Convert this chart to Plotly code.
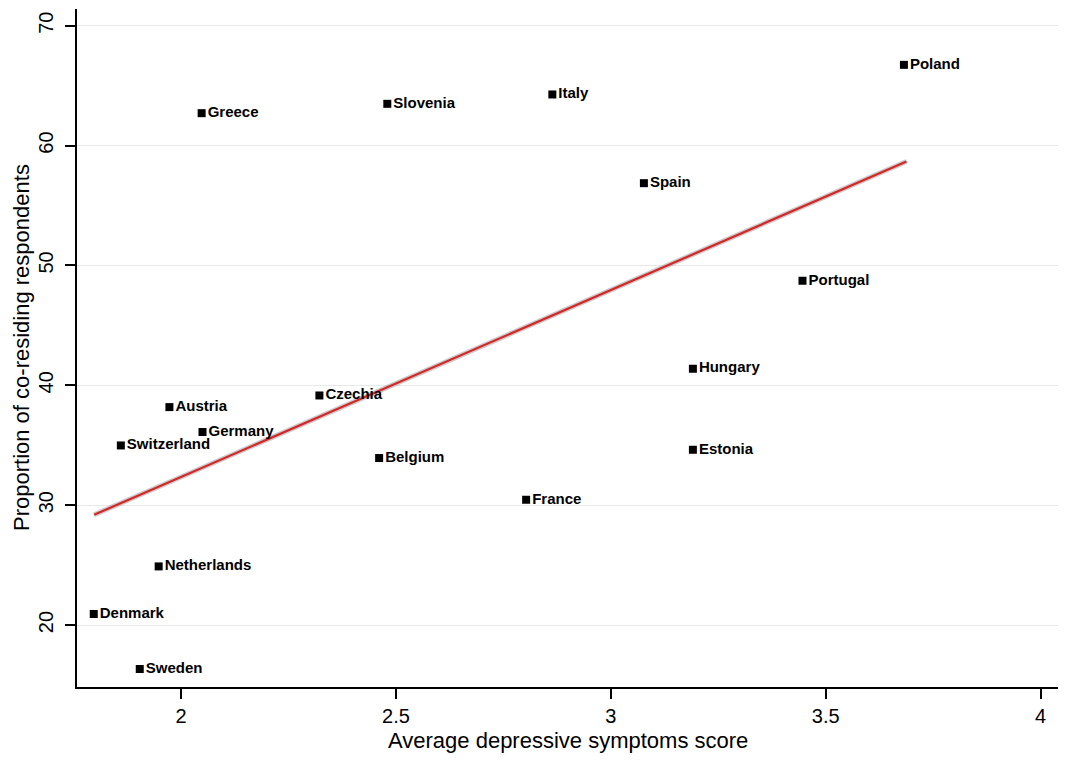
import plotly.graph_objects as go

countries = ["Poland", "Greece", "Slovenia", "Italy", "Spain", "Portugal", "Hungary",
             "Estonia", "Czechia", "Austria", "Germany", "Switzerland", "Belgium",
             "France", "Netherlands", "Denmark", "Sweden"]
depression = [3.682, 2.048, 2.480, 2.864, 3.077, 3.446, 3.191,
              3.191, 2.322, 1.973, 2.050, 1.860, 2.461,
              2.803, 1.948, 1.797, 1.904]
coresiding = [66.73, 62.70, 63.48, 64.26, 56.86, 48.72, 41.38,
              34.62, 39.15, 38.18, 36.10, 34.98, 33.93,
              30.45, 24.89, 20.92, 16.33]

# fitted line end points
fit_x = [1.798, 3.688]
fit_y = [29.20, 58.67]

x_ticks = [2, 2.5, 3, 3.5, 4]
x_tick_labels = ["2", "2.5", "3", "3.5", "4"]
y_ticks = [20, 30, 40, 50, 60, 70]

fig = go.Figure()
fig.add_trace(go.Scatter(x=fit_x, y=fit_y, mode="lines",
                         line=dict(color="rgba(150,150,150,0.5)", width=5),
                         hoverinfo="skip", showlegend=False))
fig.add_trace(go.Scatter(x=fit_x, y=fit_y, mode="lines",
                         line=dict(color="#d62728", width=2.2),
                         showlegend=False))
fig.add_trace(go.Scatter(x=depression, y=coresiding, mode="markers+text",
                         text=countries, textposition="middle right",
                         textfont=dict(family="Liberation Sans", size=15, color="black",
                                       weight="bold"),
                         marker=dict(symbol="square", size=8, color="black"),
                         showlegend=False))

# page body has an 8px default margin, so margins are offset by it
fig.update_layout(
    width=1080, height=783,
    margin=dict(l=69, r=30, t=1, b=104),
    paper_bgcolor="white", plot_bgcolor="white",
    font=dict(family="Liberation Sans", color="black"),
    xaxis=dict(range=[1.758, 4.0405], tickvals=x_ticks, ticktext=x_tick_labels,
               showgrid=False, zeroline=False, showline=True, linecolor="black",
               linewidth=1.6, ticks="outside", ticklen=10, tickwidth=1.5, tickcolor="black",
               tickfont=dict(size=20), automargin=False),
    yaxis=dict(range=[14.83, 71.39], tickvals=y_ticks, tickangle=-90,
               showgrid=True, gridcolor="#e8e8e8", gridwidth=1.3,
               zeroline=False, showline=True, linecolor="black",
               linewidth=1.6, ticks="outside", ticklen=10, tickwidth=1.5, tickcolor="black",
               tickfont=dict(size=20), automargin=False, ticklabelstandoff=4),
    annotations=[
        dict(text="Average depressive symptoms score", xref="paper", yref="paper",
             x=0.5, y=-(740 - 687) / 678, xanchor="center", yanchor="middle",
             showarrow=False, font=dict(size=22, color="black")),
        dict(text="Proportion of co-residing respondents", xref="paper", yref="paper",
             x=-(77 - 21) / 981, y=0.5, xanchor="center", yanchor="middle", textangle=-90,
             showarrow=False, font=dict(size=22, color="black")),
    ],
)

fig.write_html("out.html")
